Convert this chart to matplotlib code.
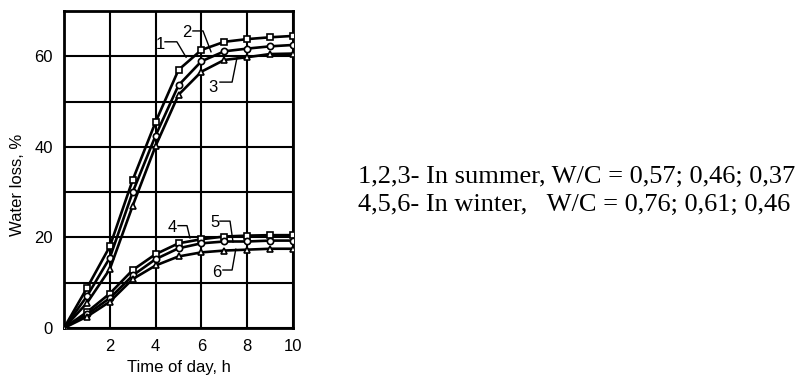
import numpy as np
import matplotlib
matplotlib.use("Agg")
import matplotlib.pyplot as plt

plt.rcParams['font.family'] = ['Liberation Sans', 'DejaVu Sans']

# hours of the day
hours = [0, 1, 2, 3, 4, 5, 6, 7, 8, 9, 10]

# summer curves (1, 2, 3)
loss_1 = [0, 8.8, 18.0, 32.7, 45.5, 57.0, 61.4, 63.2, 63.8, 64.2, 64.5]
loss_2 = [0, 7.0, 15.5, 30.0, 42.5, 53.6, 58.9, 61.1, 61.7, 62.2, 62.5]
loss_3 = [0, 5.5, 13.0, 27.0, 40.2, 51.5, 56.6, 59.2, 59.8, 60.5, 60.6]

# winter curves (4, 5, 6)
loss_4 = [0, 3.5, 7.6, 12.8, 16.3, 18.7, 19.6, 20.2, 20.4, 20.5, 20.5]
loss_5 = [0, 3.0, 6.6, 11.6, 15.2, 17.6, 18.7, 19.1, 19.1, 19.3, 19.3]
loss_6 = [0, 2.5, 5.8, 10.8, 13.8, 15.8, 16.7, 17.1, 17.3, 17.5, 17.5]

series = [loss_1, loss_2, loss_3, loss_4, loss_5, loss_6]
markers = ['s', 'o', '^', 's', 'o', '^']

# curve number labels: text position and leader line (data coords)
label_names = ['1', '2', '3', '4', '5', '6']
label_pos = [(4.19, 62.6), (5.37, 65.3), (6.5, 53.0), (4.72, 22.2), (6.59, 23.3), (6.68, 12.3)]
leader_x = [[4.41, 4.93, 5.33], [5.63, 6.07, 6.42], [6.81, 7.34, 7.55],
            [4.98, 5.37, 5.5], [6.81, 7.25, 7.38], [6.94, 7.34, 7.5]]
leader_y = [[63.2, 63.2, 59.8], [65.6, 65.6, 61.0], [54.3, 54.3, 59.6],
            [22.6, 22.6, 19.9], [23.6, 23.6, 19.0], [12.8, 12.8, 17.4]]

fig = plt.figure(figsize=(8.03, 3.76), dpi=100)
ax = fig.add_axes([0.0797, 0.1277, 0.2852, 0.843])

for vals, m in zip(series, markers):
    ax.plot(hours, vals, color='black', linewidth=1.9, marker=m, markersize=4.5,
            markerfacecolor='white', markeredgecolor='black', markeredgewidth=1.2,
            zorder=3)

for name, (tx, ty), lx, ly in zip(label_names, label_pos, leader_x, leader_y):
    ax.text(tx, ty, name, fontsize=12, ha='center', va='center', zorder=4)
    ax.plot(lx, ly, color='black', linewidth=1.0, zorder=4)

ax.set_xlim(0, 10)
ax.set_ylim(0, 70)
ax.set_xticks([0, 2, 4, 6, 8, 10])
ax.set_xticklabels(['', '2', '4', '6', '8', '10'])
ax.set_yticks([0, 10, 20, 30, 40, 50, 60, 70])
ax.set_yticklabels(['0', '', '20', '', '40', '', '60', ''])
ax.tick_params(length=0, labelsize=12, pad=8)
ax.grid(True, color='black', linewidth=1.5)
for sp in ax.spines.values():
    sp.set_linewidth(2)

ax.set_xlabel('Time of day, h', fontsize=12, labelpad=4)
ax.set_ylabel('Water loss, %', fontsize=12)
ax.yaxis.set_label_coords(-0.17, 0.45)

fig.text(0.4458, 1 - 177 / 376, '1,2,3- In summer, W/C = 0,57; 0,46; 0,37',
         family='Liberation Serif', fontsize=19, va='center', ha='left')
fig.text(0.4458, 1 - 205 / 376, '4,5,6- In winter,   W/C = 0,76; 0,61; 0,46',
         family='Liberation Serif', fontsize=19, va='center', ha='left')

fig.savefig('out.png', dpi=100)
